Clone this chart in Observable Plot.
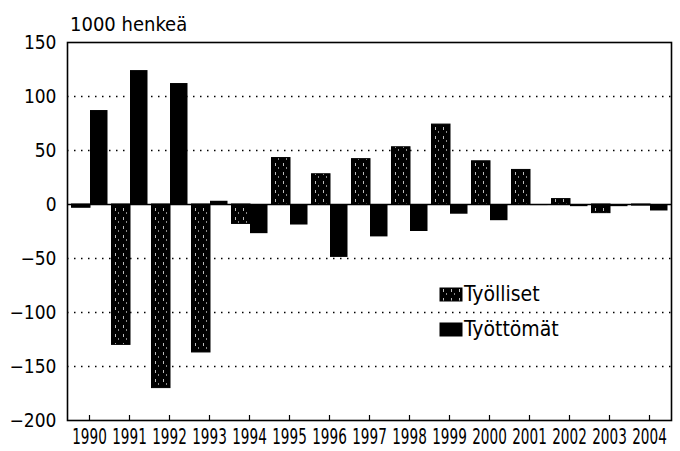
<!DOCTYPE html>
<html>
<head>
<meta charset="utf-8">
<script src="https://cdn.jsdelivr.net/npm/d3@7"></script>
<script src="https://cdn.jsdelivr.net/npm/@observablehq/plot@0.6"></script>
<style>
  body { margin: 0; background: #fff; }
  #wrap { position: relative; width: 680px; height: 451px; }
  #title { position: absolute; left: 70px; top: 12px; font-family: "DejaVu Sans", sans-serif; font-stretch: condensed; font-size: 20px; color: #000; z-index: 2; }
  svg text { font-stretch: condensed; }
</style>
</head>
<body>
<div id="wrap"><div id="title">1000 henkeä</div></div>
<script>
const years = [1990,1991,1992,1993,1994,1995,1996,1997,1998,1999,2000,2001,2002,2003,2004];
const tyolliset = [-3,-130,-170,-137,-18,43,28,42,53,74,40,32,5,-8,-1];
const tyottomat = [87,124,112,3,-27,-19,-49,-30,-25,-9,-15,-1,-2,-2,-6];
const yTicks = [150,100,50,0,-50,-100,-150,-200];
const gridVals = [100,50,-50,-100,-150];
const seriesNames = ["Työlliset","Työttömät"];

const dataT = years.map((year, i) => ({year: String(year), v: tyolliset[i]}));
const dataU = years.map((year, i) => ({year: String(year), v: tyottomat[i]}));

const font = '"DejaVu Sans", sans-serif';

const chart = Plot.plot({
  width: 680,
  height: 451,
  marginLeft: 67,
  marginRight: 9,
  marginTop: 42,
  marginBottom: 31,
  style: {fontFamily: font, fontSize: "19px", color: "#000", background: "#fff"},
  x: {type: "band", domain: years.map(String), padding: 0},
  y: {domain: [-200, 150]},
  marks: [
    Plot.ruleY(gridVals, {stroke: "#000", strokeWidth: 1.6, strokeDasharray: "1.5,5.5"}),
    Plot.barY(dataT, {x: "year", y: "v", fill: "url(#tyolPat)", stroke: "#000", strokeWidth: 1, insetLeft: 2.5, insetRight: 19}),
    Plot.barY(dataU, {x: "year", y: "v", fill: "#000", insetLeft: 21, insetRight: 1.5}),
    Plot.ruleY([0], {stroke: "#000", strokeWidth: 1.5}),
    Plot.axisX({tickSize: -5, tickPadding: 14, label: null, stroke: "#000", strokeWidth: 1.2, fontSize: 21}),
    Plot.axisY({ticks: yTicks, tickSize: 0, tickPadding: 11, label: null, tickFormat: d => d < 0 ? "\u2212" + Math.abs(d) : String(d)}),
    Plot.frame({stroke: "#000", strokeWidth: 1.6})
  ]
});

const svg = d3.select(chart);
svg.selectAll('g[aria-label="x-axis tick label"] text').each(function() {
  const t = this.getAttribute("transform") || "";
  this.setAttribute("transform", t + " scale(0.72,1)");
});

const defs = svg.insert("defs", ":first-child");
const pat = defs.append("pattern").attr("id", "tyolPat").attr("patternUnits", "userSpaceOnUse")
  .attr("width", 8).attr("height", 9);
pat.append("rect").attr("width", 8).attr("height", 9).attr("fill", "#000");
pat.append("rect").attr("x", 3).attr("y", 1).attr("width", 1).attr("height", 3).attr("fill", "#bbb");
pat.append("rect").attr("x", 6).attr("y", 5).attr("width", 1).attr("height", 2).attr("fill", "#888");

// legend
const leg = svg.append("g").attr("font-family", font).attr("font-size", 21).attr("text-anchor", "start");
const legFills = ["url(#tyolPat)", "#000"];
seriesNames.forEach((name, i) => {
  const y0 = 288 + i * 35;
  leg.append("rect").attr("x", 440).attr("y", y0).attr("width", 22).attr("height", 13)
    .attr("fill", legFills[i]).attr("stroke", "#000");
  leg.append("text").attr("x", 464).attr("y", y0 + 13).attr("fill", "#000").attr("text-anchor", "start").text(name);
});

document.getElementById("wrap").appendChild(chart);
chart.style.position = "absolute";
chart.style.left = "0";
chart.style.top = "0";
</script>
</body>
</html>
